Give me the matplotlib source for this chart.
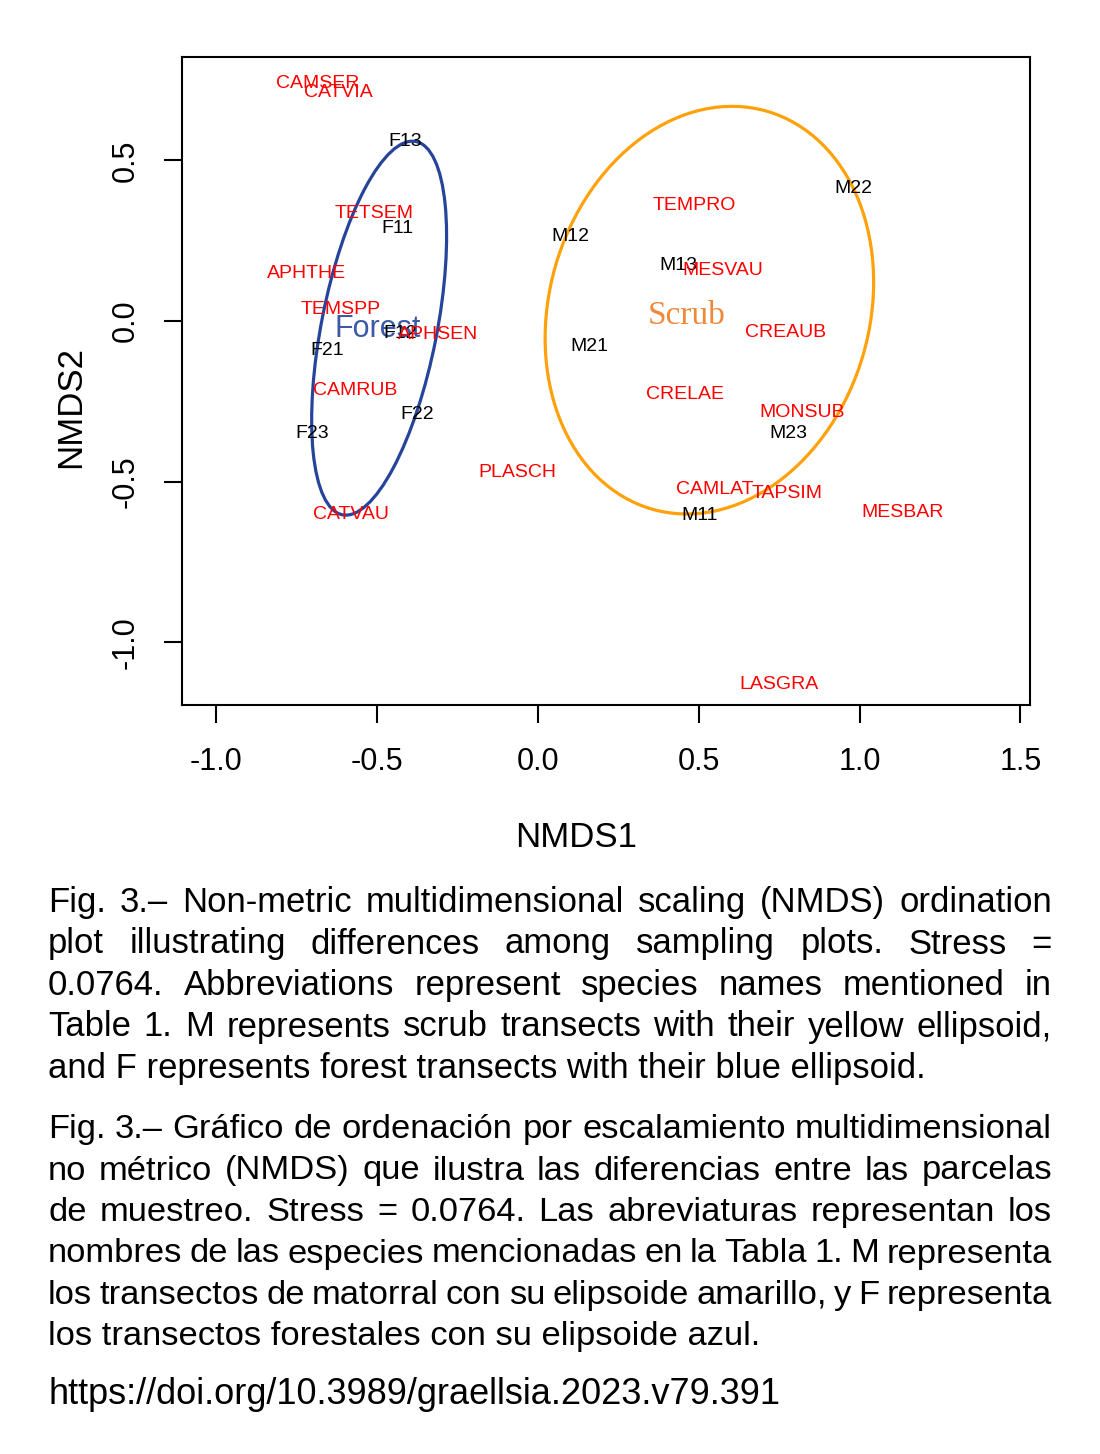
import matplotlib
matplotlib.use("Agg")
import matplotlib.pyplot as plt
from matplotlib.patches import Ellipse

# species scores (red labels)
species = ["CAMSER", "CATVIA", "TETSEM", "APHTHE", "TEMSPP", "APHSEN", "CAMRUB",
           "PLASCH", "CATVAU", "TEMPRO", "MESVAU", "CREAUB", "CRELAE", "MONSUB",
           "CAMLAT", "TAPSIM", "MESBAR", "LASGRA"]
species_x = [-0.686, -0.620, -0.509, -0.721, -0.614, -0.311, -0.569,
             -0.065, -0.583, 0.487, 0.576, 0.770, 0.456, 0.822,
             0.551, 0.775, 1.135, 0.751]
species_y = [0.740, 0.711, 0.336, 0.148, 0.036, -0.042, -0.217,
             -0.471, -0.602, 0.359, 0.156, -0.037, -0.229, -0.283,
             -0.524, -0.536, -0.597, -1.132]

# site scores (black labels)
sites = ["F13", "F11", "F12", "F21", "F22", "F23",
         "M22", "M12", "M13", "M21", "M23", "M11"]
site_x = [-0.414, -0.438, -0.429, -0.655, -0.376, -0.702,
          0.982, 0.102, 0.436, 0.159, 0.778, 0.504]
site_y = [0.558, 0.287, -0.038, -0.091, -0.290, -0.350,
          0.413, 0.262, 0.173, -0.080, -0.351, -0.605]

# group ellipses
groups = ["Forest", "Scrub"]
group_x = [-0.499, 0.463]
group_y = [-0.024, 0.018]
ell_x = [-0.494, 0.533]
ell_y = [-0.022, 0.034]
ell_w = [1.184, 1.289]
ell_h = [0.359, 0.996]
ell_angle = [78.9, 73.9]

x_ticks = [-1.0, -0.5, 0.0, 0.5, 1.0, 1.5]
y_ticks = [-1.0, -0.5, 0.0, 0.5]

caption_en = [
    "Fig. 3.– Non-metric multidimensional scaling (NMDS) ordination",
    "plot illustrating differences among sampling plots. Stress =",
    "0.0764. Abbreviations represent species names mentioned in",
    "Table 1. M represents scrub transects with their yellow ellipsoid,",
    "and F represents forest transects with their blue ellipsoid.",
]
caption_es = [
    "Fig. 3.– Gráfico de ordenación por escalamiento multidimensional",
    "no métrico (NMDS) que ilustra las diferencias entre las parcelas",
    "de muestreo. Stress = 0.0764. Las abreviaturas representan los",
    "nombres de las especies mencionadas en la Tabla 1. M representa",
    "los transectos de matorral con su elipsoide amarillo, y F representa",
    "los transectos forestales con su elipsoide azul.",
]
doi = "https://doi.org/10.3989/graellsia.2023.v79.391"

W, H = 1100, 1454
plt.rcParams["font.family"] = ["Liberation Sans", "DejaVu Sans"]

fig = plt.figure(figsize=(W / 100, H / 100), dpi=100)
ax = fig.add_axes([182 / W, 1 - 705 / H, 848 / W, 648 / H])

ell_colors = ["#27449b", "#ffa10a"]
group_colors = ["#3d5aa8", "#f0883a"]
group_fonts = [dict(family="Liberation Sans", size=22),
               dict(family="Liberation Serif", size=24)]

for i in range(len(groups)):
    ax.add_patch(Ellipse((ell_x[i], ell_y[i]), ell_w[i], ell_h[i], angle=ell_angle[i],
                         fill=False, edgecolor=ell_colors[i], lw=2.3))
    ax.text(group_x[i], group_y[i], groups[i], color=group_colors[i],
            ha="center", va="center", **group_fonts[i])

for name, x, y in zip(sites, site_x, site_y):
    ax.text(x, y, name, color="black", fontsize=14, ha="center", va="center")

for name, x, y in zip(species, species_x, species_y):
    ax.text(x, y, name, color="#ff0000", fontsize=14, ha="center", va="center")

ax.set_xlim(-1.107, 1.530)
ax.set_ylim(-1.195, 0.822)
ax.set_xticks(x_ticks)
ax.set_xticklabels([f"{t:.1f}" for t in x_ticks])
ax.set_yticks(y_ticks)
ax.set_yticklabels([f"{t:.1f}" for t in y_ticks], rotation=90, va="center")
for s in ax.spines.values():
    s.set_linewidth(1.5)
ax.tick_params(direction="out", length=13, width=1.5, labelsize=22, pad=17)

ax.set_xlabel("NMDS1", fontsize=25)
ax.xaxis.set_label_coords((576 - 182) / 848, (705 - 821) / 648)
ax.set_ylabel("NMDS2", fontsize=25)
ax.yaxis.label.set_va("center")
ax.yaxis.set_label_coords((71 - 182) / 848, (705 - 407) / 648)

# caption, justified like the journal layout
renderer = fig.canvas.get_renderer()
x_left, x_right = 48, 1052


def fit_size(line, target):
    t = fig.text(0, 0, line, fontsize=10)
    w = t.get_window_extent(renderer).width
    t.remove()
    return 10 * target / w


def put_paragraph(lines, baseline0, pitch, size):
    for k, line in enumerate(lines):
        y = 1 - (baseline0 + k * pitch) / H
        if k == len(lines) - 1:
            fig.text(x_left / W, y, line, fontsize=size, va="baseline")
            continue
        words = line.split()
        texts = [fig.text(0, y, w, fontsize=size, va="baseline") for w in words]
        widths = [t.get_window_extent(renderer).width for t in texts]
        gap = (x_right - x_left - sum(widths)) / (len(words) - 1)
        x = x_left
        for t, w in zip(texts, widths):
            t.set_x(x / W)
            x += w + gap


size_en = fit_size(caption_en[-1], 877)
size_es = fit_size(caption_es[-1], 712)
put_paragraph(caption_en, 912, 41.5, size_en)
put_paragraph(caption_es, 1138, 41.5, size_es)
fig.text(x_left / W, 1 - 1404 / H, doi, fontsize=fit_size(doi, 733), va="baseline")

fig.savefig("out.png", dpi=100)
